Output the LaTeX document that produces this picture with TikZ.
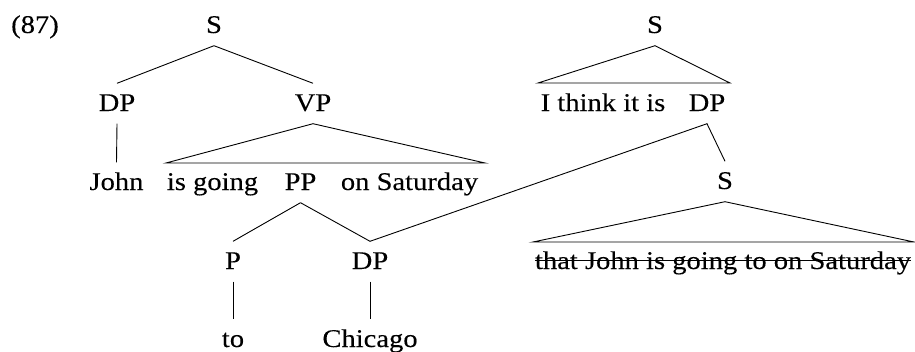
\documentclass[tikz,border=0pt]{standalone}
\usepackage{fontspec}
\setmainfont[FakeStretch=1.12,FakeBold=0.2]{Liberation Serif}
\begin{document}
\begin{tikzpicture}[x=1pt,y=-1pt,
  lab/.style={anchor=base, inner xsep=0pt, inner ysep=11.5pt, text height=16pt, text depth=1pt, font=\fontsize{25.5}{30}\selectfont},
  edge/.style={draw=black, line width=0.9pt}]
\useasboundingbox (0,0) rectangle (915,351);
% left tree
\node[lab] (num) at (35,33) {(87)};
\node[lab] (S1) at (214,33) {S};
\node[lab] (DP1) at (117,111) {DP};
\node[lab] (VP) at (313,111) {VP};
\node[lab] (John) at (116.5,190) {John};
\node[lab] (isgoing) at (212.5,190) {is going};
\node[lab] (PP) at (300.5,190) {PP};
\node[lab] (onsat) at (409.5,190) {on Saturday};
\node[lab] (P) at (233,269) {P};
\node[lab] (DP2) at (370,269) {DP};
\node[lab] (to) at (233,347) {to};
\node[lab] (chicago) at (370,347) {Chicago};
% right tree
\node[lab] (S2) at (655,33) {S};
\node[lab] (think) at (603,111) {I think it is};
\node[lab] (DP3) at (707,111) {DP};
\node[lab] (S3) at (725,189) {S};
\node[lab] (that) at (723,269) {that John is going to on Saturday};
% triangle corners
\coordinate (vpL) at (166,163);
\coordinate (vpR) at (485,163);
\coordinate (s2L) at (538,83);
\coordinate (s2R) at (730,83);
\coordinate (s3L) at (533,242);
\coordinate (s3R) at (914,242);
% connectors
\draw[edge] (S1.south) -- (DP1.north);
\draw[edge] (S1.south) -- (VP.north);
\draw[edge] (DP1.south) -- (John.north);
\draw[edge] (VP.south) -- (vpL) -- (vpR) -- cycle;
\draw[edge] (PP.south) -- (P.north);
\draw[edge] (PP.south) -- (DP2.north) -- (DP3.south) -- (S3.north);
\draw[edge] (P.south) -- (to.north);
\draw[edge] (DP2.south) -- (chicago.north);
\draw[edge] (S2.south) -- (s2L) -- (s2R) -- cycle;
\draw[edge] (S3.south) -- (s3L) -- (s3R) -- cycle;
% strikethrough
\draw[edge] ([yshift=9pt]that.base west) -- ([yshift=9pt]that.base east);
\end{tikzpicture}
\end{document}
